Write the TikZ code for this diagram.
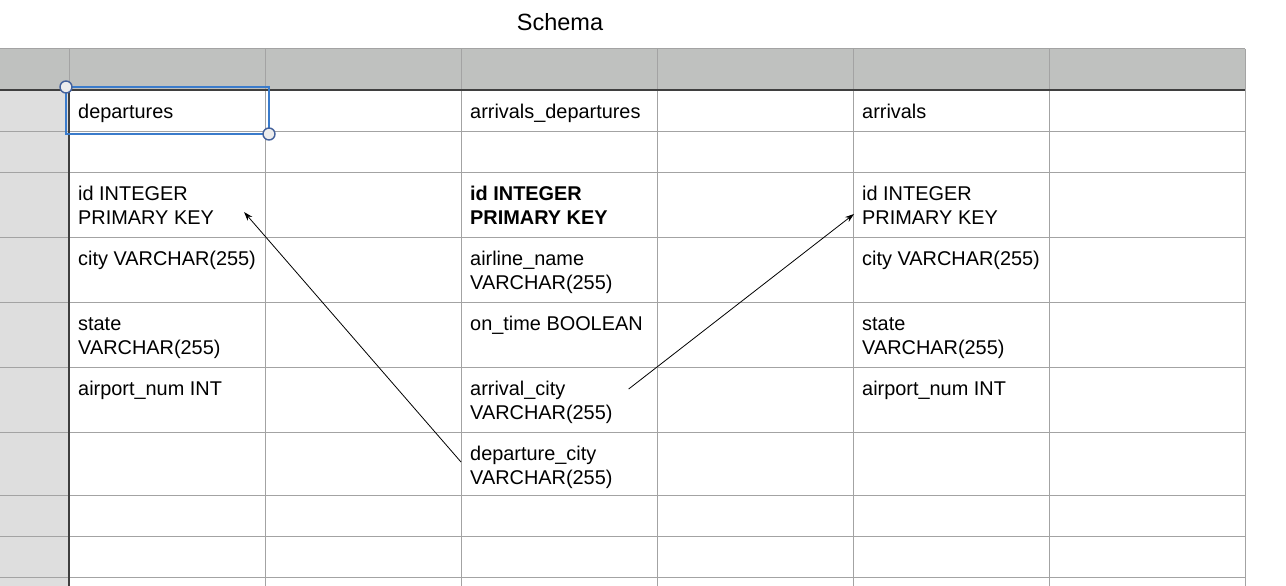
\documentclass[tikz,border=0pt]{standalone}
\usepackage{fontspec}
\setmainfont{Liberation Sans}
\usetikzlibrary{arrows.meta,calc}
\definecolor{hdr}{HTML}{BFC1BF}
\definecolor{sidecol}{HTML}{DEDEDE}
\definecolor{gridc}{HTML}{A3A3A3}
\definecolor{darkc}{HTML}{3F3F3F}
\definecolor{selblue}{HTML}{3A7BCB}
\definecolor{handle}{HTML}{44619B}
\tikzset{
  gridline/.style={draw=gridc,line width=1pt},
  darkline/.style={draw=darkc,line width=1.3pt},
  celltxt/.style={anchor=base west,inner sep=0pt,font=\fontsize{19.9}{24}\selectfont},
  titletxt/.style={anchor=base,inner sep=0pt,font=\fontsize{23.5}{28}\selectfont},
  link/.style={draw=black,line width=0.8pt,-{Stealth[length=9pt,width=6pt]}},
  selbox/.style={draw=selblue,line width=1.6pt},
  selhandle/.style={circle,draw=handle,fill=white!93!black,line width=1.4pt,minimum size=12pt,inner sep=0pt}
}
\begin{document}
\begin{tikzpicture}[x=1pt,y=-1pt]
\useasboundingbox (0,0) rectangle (1286,586);
\fill[white] (0,0) rectangle (1286,586);
% header and side column
\fill[hdr] (0,49) rectangle (1245,90);
\fill[sidecol] (0,90) rectangle (69,586);
% horizontal grid lines
\foreach \y in {131,172,237,302,367,432,495,536,577}
  \draw[gridline] (0,\y) -- (1245,\y);
\draw[gridline] (0,49) -- (1245,49);
% vertical grid lines
\foreach \x in {265,461,657,853,1049,1245}
  \draw[gridline] (\x,49) -- (\x,586);
\draw[gridline] (69,49) -- (69,90);
\draw[darkline] (69,90) -- (69,586);
\draw[darkline] (0,90) -- (1245,90);
% title
\node[titletxt] (title) at (560,30.5) {Schema};
% column 1: departures
\node[celltxt] (dep) at (78,118.5) {departures};
\node[celltxt] (depid1) at (78,200) {id INTEGER};
\node[celltxt] (depid2) at (78,224.5) {PRIMARY KEY};
\node[celltxt] (depcity) at (78,265) {city VARCHAR(255)};
\node[celltxt] (depst1) at (78,330) {state};
\node[celltxt] (depst2) at (78,354.5) {VARCHAR(255)};
\node[celltxt] (depair) at (78,395) {airport\_num INT};
% column 3: arrivals_departures
\node[celltxt] (ad) at (470,118.5) {arrivals\_departures};
\node[celltxt,font=\fontsize{19.9}{24}\selectfont\bfseries] (adid1) at (470,200) {id INTEGER};
\node[celltxt,font=\fontsize{19.9}{24}\selectfont\bfseries] (adid2) at (470,224.5) {PRIMARY KEY};
\node[celltxt] (adal1) at (470,265) {airline\_name};
\node[celltxt] (adal2) at (470,289.5) {VARCHAR(255)};
\node[celltxt] (adot) at (470,330) {on\_time BOOLEAN};
\node[celltxt] (adac1) at (470,395) {arrival\_city};
\node[celltxt] (adac2) at (470,419.5) {VARCHAR(255)};
\node[celltxt] (addc1) at (470,460) {departure\_city};
\node[celltxt] (addc2) at (470,484.5) {VARCHAR(255)};
% column 5: arrivals
\node[celltxt] (arr) at (862,118.5) {arrivals};
\node[celltxt] (arrid1) at (862,200) {id INTEGER};
\node[celltxt] (arrid2) at (862,224.5) {PRIMARY KEY};
\node[celltxt] (arrcity) at (862,265) {city VARCHAR(255)};
\node[celltxt] (arrst1) at (862,330) {state};
\node[celltxt] (arrst2) at (862,354.5) {VARCHAR(255)};
\node[celltxt] (arrair) at (862,395) {airport\_num INT};
% selection box
\draw[selbox] (66,87) rectangle (269,134);
\node[selhandle] (h1) at (66,87) {};
\node[selhandle] (h2) at (269,134) {};
% connectors
\coordinate (s1) at ($(addc1.base west)+(-9,2)$);
\coordinate (e1) at ($(depid2.base east)+(30,-12.5)$);
\coordinate (s2) at ($(adac2.base east)+(16,-30.5)$);
\coordinate (e2) at ($(arrid2.base west)+(-8,-10.5)$);
\draw[link] (s1) -- (e1);
\draw[link] (s2) -- (e2);
\end{tikzpicture}
\end{document}
